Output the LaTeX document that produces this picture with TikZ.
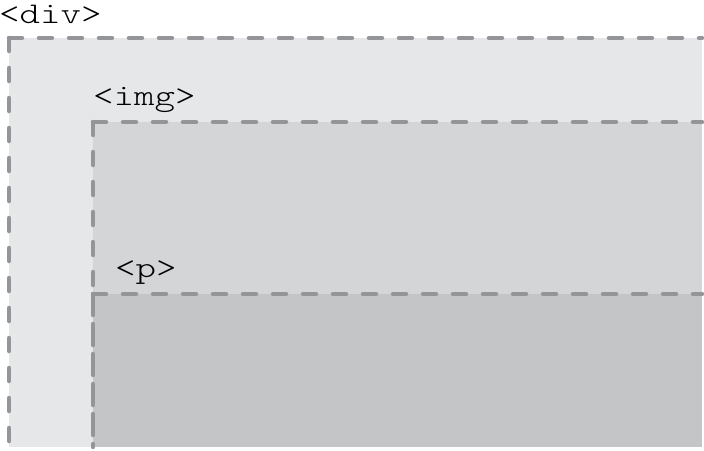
\documentclass[tikz,border=0pt]{standalone}
\usepackage{fontspec}
\newfontfamily\tagfont{Latin Modern Mono Light}
\definecolor{divfill}{HTML}{E6E7E8}
\definecolor{imgfill}{HTML}{D4D5D7}
\definecolor{pfill}{HTML}{C4C5C7}
\definecolor{dashgray}{HTML}{939598}
\tikzset{
  areabox/.style={anchor=north west, inner sep=0pt, outer sep=0pt, draw=none},
  edgeline/.style={draw=dashgray, line width=4.5pt, line cap=round, dash pattern=on 13pt off 17pt},
  tag/.style={anchor=base west, inner sep=0pt, font=\tagfont\fontsize{30}{36}\selectfont}
}
\newcommand{\widetag}[1]{\scalebox{1.3}[1]{#1}}
\begin{document}
\begin{tikzpicture}[x=1pt,y=-1pt]
\useasboundingbox (0,0) rectangle (704,450);
\node[areabox, fill=divfill, minimum width=693pt, minimum height=409pt] (div) at (9,38) {};
\node[areabox, fill=imgfill, minimum width=609pt, minimum height=325pt] (img) at (93,122) {};
\node[areabox, fill=pfill, minimum width=609pt, minimum height=153pt] (p) at (93,294) {};
\foreach \b in {div,img,p}{
  \draw[edgeline] (\b.north west) -- (\b.north east);
  \draw[edgeline] (\b.north west) -- (\b.south west);
}
\node[tag] (divlabel) at (-1,23) {\widetag{<div>}};
\node[tag] (imglabel) at (93,105) {\widetag{<img>}};
\node[tag] (plabel) at (115,277) {\widetag{<p>}};
\end{tikzpicture}
\end{document}
